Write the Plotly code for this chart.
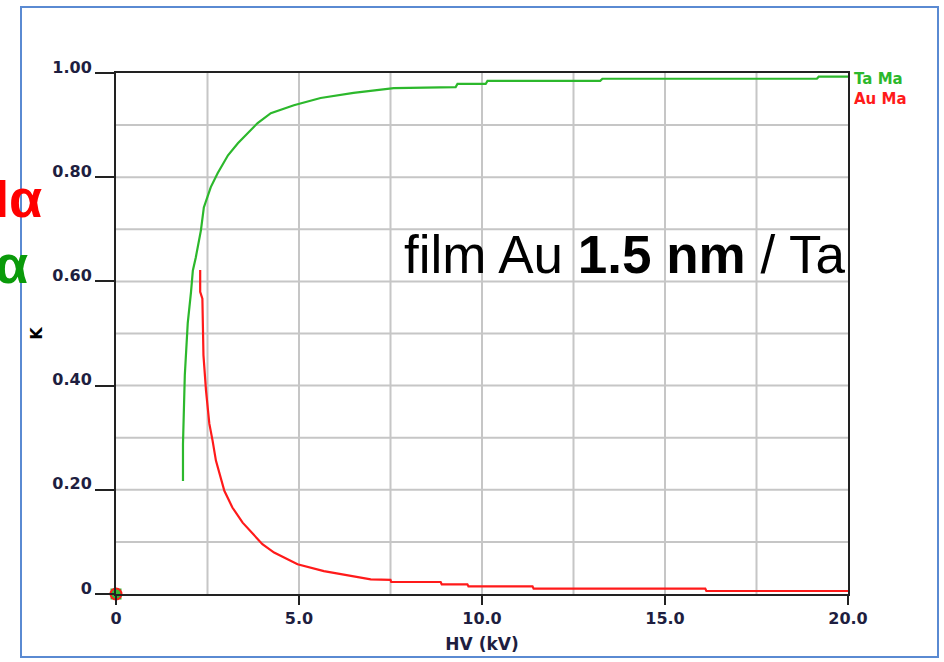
import plotly.graph_objects as go

# Ta Ma (green) k-ratio vs HV
ta_kv = [1.83, 1.83, 1.88, 1.96, 2.05, 2.10, 2.18, 2.32, 2.40, 2.59, 2.78, 3.06, 3.33, 3.68,
         3.87, 4.23, 4.86, 5.59, 6.49, 7.59, 9.00, 9.28, 9.33, 10.10, 10.15, 13.23, 13.29,
         19.15, 19.20, 20.00]
ta_k = [0.217, 0.288, 0.420, 0.520, 0.580, 0.621, 0.646, 0.698, 0.742, 0.781, 0.808, 0.842,
        0.865, 0.890, 0.904, 0.923, 0.938, 0.952, 0.962, 0.971, 0.973, 0.973, 0.979, 0.979,
        0.985, 0.985, 0.989, 0.989, 0.993, 0.993]

# Au Ma (red) k-ratio vs HV
au_kv = [2.30, 2.30, 2.36, 2.39, 2.46, 2.55, 2.64, 2.73, 2.96, 3.18, 3.46, 4.00, 4.32, 4.96,
         5.68, 6.41, 6.96, 7.50, 7.52, 8.87, 8.90, 9.60, 9.63, 11.38, 11.41, 16.10, 16.13, 20.00]
au_k = [0.622, 0.580, 0.567, 0.458, 0.390, 0.327, 0.294, 0.256, 0.198, 0.166, 0.137, 0.0955,
        0.0795, 0.057, 0.044, 0.0346, 0.028, 0.027, 0.023, 0.023, 0.0186, 0.0186, 0.0147,
        0.0147, 0.0103, 0.0103, 0.0058, 0.0058]

x_tick_vals = [0, 5, 10, 15, 20]
x_tick_text = ["0", "5.0", "10.0", "15.0", "20.0"]
y_tick_vals = [0, 0.2, 0.4, 0.6, 0.8, 1.0]
y_tick_text = ["0", "0.20", "0.40", "0.60", "0.80", "1.00"]

GREEN = "#2cb82c"
RED = "#ff1a1a"
TICKC = "#1e1e40"

W, H = 944, 662
L, R, T, B = 116, 96, 73, 68
PW, PH = W - L - R, H - T - B


def px(xp):
    return (xp - L) / PW


def py(yp):
    return (H - B - yp) / PH


fig = go.Figure()
fig.add_trace(go.Scatter(x=ta_kv, y=ta_k, mode="lines", line=dict(color=GREEN, width=2.2),
                         showlegend=False, hoverinfo="skip"))
fig.add_trace(go.Scatter(x=au_kv, y=au_k, mode="lines", line=dict(color=RED, width=2.2),
                         showlegend=False, hoverinfo="skip"))
fig.add_trace(go.Scatter(x=[0], y=[0], mode="markers", cliponaxis=False,
                         marker=dict(symbol="square", size=11, color="#33bb33"),
                         showlegend=False, hoverinfo="skip"))
fig.add_trace(go.Scatter(x=[0], y=[0], mode="markers", cliponaxis=False,
                         marker=dict(symbol="circle-open", size=11, color=RED, line=dict(width=2)),
                         showlegend=False, hoverinfo="skip"))

WIDE = "DejaVu Sans, Verdana, sans-serif"
tickfont = dict(family=WIDE, size=16, color=TICKC, weight="bold")

fig.update_xaxes(range=[0, 20], tickvals=x_tick_vals, ticktext=x_tick_text,
                 ticks="outside", ticklen=9, tickwidth=2, tickcolor="#222",
                 showline=True, linecolor="#222", linewidth=2, mirror=True,
                 showgrid=False, zeroline=False, tickfont=tickfont,
                 title=dict(text="<b>HV (kV)</b>", font=dict(family=WIDE, size=17, color=TICKC),
                            standoff=11))
fig.update_yaxes(range=[0, 1.0], tickvals=y_tick_vals, ticktext=y_tick_text,
                 ticks="outside", ticklen=19, tickwidth=2, tickcolor="#222",
                 ticklabelshift=-6,
                 showline=True, linecolor="#222", linewidth=2, mirror=True,
                 showgrid=False, zeroline=False, tickfont=tickfont,
                 title=dict(text="<b>K</b>", font=dict(family=WIDE, size=16, color="black"),
                            standoff=6))

shapes = []
# grid lines
for i in range(1, 10):
    shapes.append(dict(type="line", xref="x", yref="y", x0=0, x1=20, y0=i / 10, y1=i / 10,
                       line=dict(color="#c6c6c6", width=2), layer="below"))
for i in range(1, 8):
    shapes.append(dict(type="line", xref="x", yref="y", x0=i * 2.5, x1=i * 2.5, y0=0, y1=1,
                       line=dict(color="#c6c6c6", width=2), layer="below"))
# outer blue frame
shapes.append(dict(type="rect", xref="paper", yref="paper", x0=px(21), x1=px(938),
                   y0=py(657), y1=py(7), line=dict(color="#5a8ad2", width=2), fillcolor="rgba(0,0,0,0)"))

annotations = [
    dict(text="film Au <b>1.5 nm</b> / Ta", xref="paper", yref="paper", x=px(847), y=py(254),
         xanchor="right", yanchor="middle", showarrow=False,
         font=dict(family="Liberation Sans, Arial", size=53, color="black")),
    dict(text=f"<span style='color:{GREEN}'><b>Ta Ma</b></span><br><span style='color:{RED}'><b>Au Ma</b></span>",
         xref="paper", yref="paper", x=px(852), y=py(89), xanchor="left", align="left",
         yanchor="middle", showarrow=False,
         font=dict(family=WIDE, size=15, color=GREEN)),
    dict(text="Au Mα", xref="paper", yref="paper", x=px(44), y=py(198), xanchor="right",
         yanchor="middle", showarrow=False,
         font=dict(family="Liberation Sans, Arial", size=54, color="#ff0000", weight="bold")),
    dict(text="Ta Mα", xref="paper", yref="paper", x=px(30), y=py(264), xanchor="right",
         yanchor="middle", showarrow=False,
         font=dict(family="Liberation Sans, Arial", size=54, color="#0a9a0a", weight="bold")),
]

fig.update_layout(width=W, height=H, margin=dict(l=L, r=R, t=T, b=B),
                  paper_bgcolor="white", plot_bgcolor="white",
                  shapes=shapes, annotations=annotations, showlegend=False)

fig.write_html("out.html", config={"displayModeBar": False},
               post_script="document.body.style.margin='0';document.body.style.overflow='hidden';")
